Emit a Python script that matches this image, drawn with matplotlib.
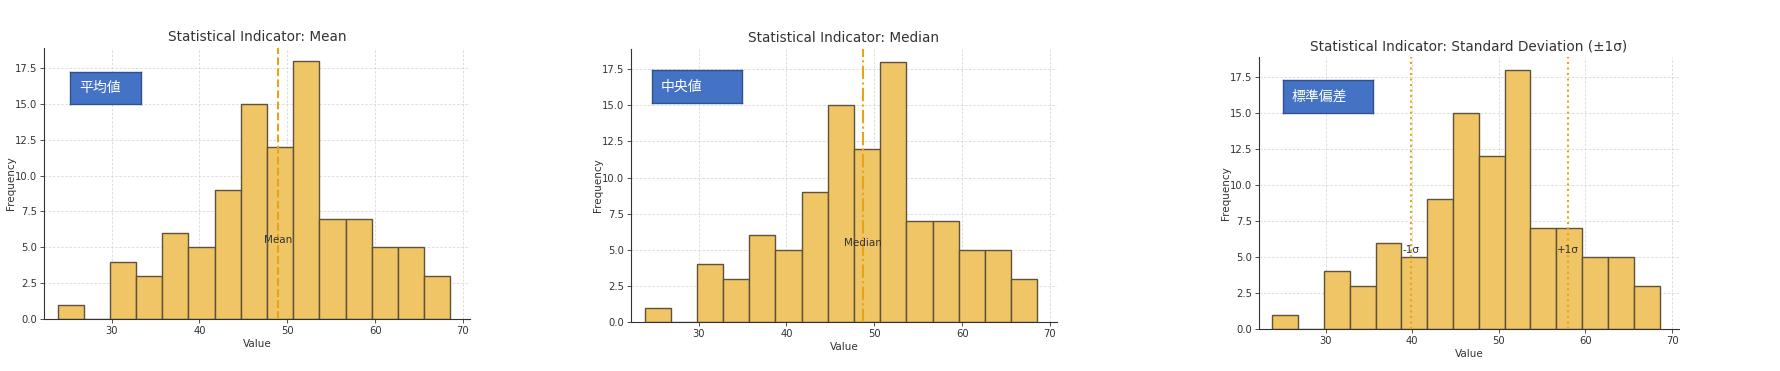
import numpy as np
import matplotlib
matplotlib.use("Agg")
import matplotlib.pyplot as plt

plt.rcParams['font.family'] = ['DejaVu Sans', 'Noto Sans CJK JP']

# histogram data
bin_start = 23.85
bin_width = 2.98
counts = [1, 0, 4, 3, 6, 5, 9, 15, 12, 18, 7, 7, 5, 5, 3]
edges = bin_start + bin_width * np.arange(len(counts) + 1)
centers = (edges[:-1] + edges[1:]) / 2

mean_val = 48.95
median_val = 48.7
std_val = 9.05

titles = ["Statistical Indicator: Mean",
          "Statistical Indicator: Median",
          "Statistical Indicator: Standard Deviation (±1σ)"]
labels_jp = ["平均値", "中央値", "標準偏差"]

bar_color = "#EFC566"
line_color = "#E8A317"
txt_color = "#333333"

W, H = 1781, 371
fig = plt.figure(figsize=(W / 100, H / 100), dpi=100)

# axes boxes in pixels: left, right, top, bottom
boxes = [(44, 470, 48, 319), (631, 1057, 49, 322), (1259, 1679, 57, 329)]
# label boxes in pixels: left, right, top, bottom
lbl_boxes = [(70, 141, 72, 104), (652, 742, 70, 103), (1283, 1373, 80, 113)]

for i, (l, r, t, b) in enumerate(boxes):
    ax = fig.add_axes([l / W, 1 - b / H, (r - l) / W, (b - t) / H])
    ax.hist(centers, bins=edges, weights=counts, color=bar_color,
            edgecolor="#5f5238", linewidth=1.0, zorder=2)
    ax.set_xlim(22.3, 70.8)
    ax.set_ylim(0, 18.9)
    ax.set_xticks([30, 40, 50, 60, 70])
    ax.set_yticks(np.arange(0, 18, 2.5))
    ax.grid(True, linestyle=(0, (3, 2)), color="#d8d8d8", linewidth=0.6, zorder=0)
    ax.set_axisbelow(True)
    for s in ["top", "right"]:
        ax.spines[s].set_visible(False)
    for s in ["left", "bottom"]:
        ax.spines[s].set_color("#333333")
        ax.spines[s].set_linewidth(0.8)
    ax.tick_params(labelsize=7.2, colors=txt_color, length=3, width=0.6, pad=2)
    ax.set_title(titles[i], fontsize=9.8, color=txt_color, pad=5)
    ax.set_xlabel("Value", fontsize=7.5, color=txt_color, labelpad=2)
    ax.set_ylabel("Frequency", fontsize=7.5, color=txt_color)
    ax.yaxis.set_label_coords(-0.066, 0.5)

    if i == 0:
        ax.axvline(mean_val, color=line_color, linestyle="--", linewidth=1.5, zorder=3)
        ax.text(mean_val, 5.5, "Mean", ha="center", va="center", fontsize=7.5, color=txt_color, zorder=4)
    elif i == 1:
        ax.axvline(median_val, color=line_color, linestyle="-.", linewidth=1.5, zorder=3)
        ax.text(median_val, 5.5, "Median", ha="center", va="center", fontsize=7.5, color=txt_color, zorder=4)
    else:
        lo = mean_val - std_val
        hi = mean_val + std_val
        ax.axvline(lo, color=line_color, linestyle=":", linewidth=1.5, zorder=3)
        ax.axvline(hi, color=line_color, linestyle=":", linewidth=1.5, zorder=3)
        ax.text(lo, 5.5, "-1σ", ha="center", va="center", fontsize=7.5, color=txt_color, zorder=4)
        ax.text(hi, 5.5, "+1σ", ha="center", va="center", fontsize=7.5, color=txt_color, zorder=4)

    # blue label box
    bl, br, bt, bb = lbl_boxes[i]
    bax = fig.add_axes([bl / W, 1 - bb / H, (br - bl) / W, (bb - bt) / H])
    bax.set_xticks([])
    bax.set_yticks([])
    bax.set_facecolor("#4472C4")
    for s in bax.spines.values():
        s.set_color("#2F528F")
        s.set_linewidth(1.0)
    bax.text(9 / (br - bl), 0.5, labels_jp[i], transform=bax.transAxes, ha="left", va="center",
             fontsize=10, color="white", family=["Noto Sans CJK JP", "DejaVu Sans"])

fig.savefig("out.png", dpi=100)
